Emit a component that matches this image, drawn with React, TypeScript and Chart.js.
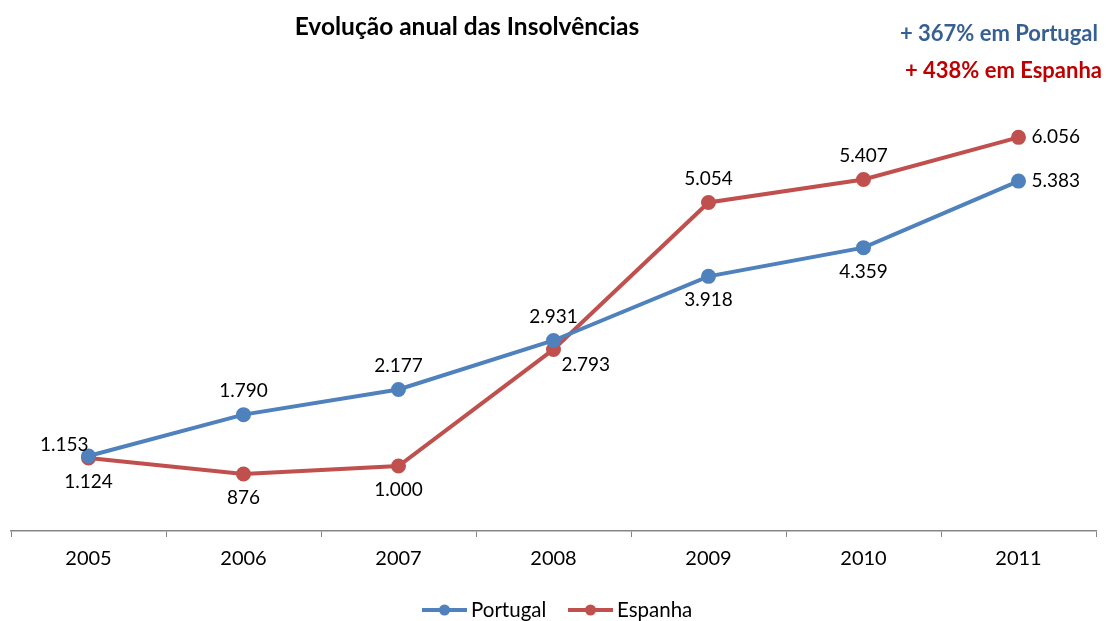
import React, { useEffect, useRef } from "react";
import { Chart, registerables } from "chart.js";

Chart.register(...registerables);

const years = ["2005", "2006", "2007", "2008", "2009", "2010", "2011"];
const portugal = [1153, 1790, 2177, 2931, 3918, 4359, 5383];
const espanha = [1124, 876, 1000, 2793, 5054, 5407, 6056];
const portugalLabelPlacement = ["aboveLeft", "above", "above", "above", "below", "below", "right"];
const espanhaLabelPlacement = ["below", "below", "below", "belowRight", "above", "above", "right"];
const titleText = "Evolução anual das Insolvências";
const noteLines = ["+ 367% em Portugal", "+ 438% em Espanha"];

const BLUE = "#4F81BD";
const RED = "#C0504D";
const FONT = "Lato, 'Open Sans', sans-serif";

const fmt = (v: number) => {
  const s = String(v);
  return s.length > 3 ? s.slice(0, s.length - 3) + "." + s.slice(s.length - 3) : s;
};

const labelPlugin = {
  id: "labelPlugin",
  afterDatasetsDraw(chart: any) {
    const ctx = chart.ctx;
    ctx.save();
    ctx.font = `19px ${FONT}`;
    ctx.fillStyle = "#000";
    ctx.textBaseline = "middle";
    const placements = [portugalLabelPlacement, espanhaLabelPlacement];
    chart.data.datasets.forEach((ds: any, di: number) => {
      const meta = chart.getDatasetMeta(di);
      meta.data.forEach((pt: any, i: number) => {
        const txt = fmt(ds.data[i]);
        const p = placements[di][i];
        let x = pt.x, y = pt.y;
        ctx.textAlign = "center";
        if (p === "above") { y -= 24; }
        else if (p === "below") { y += 24; }
        else if (p === "right") { ctx.textAlign = "left"; x += 13; }
        else if (p === "aboveLeft") { ctx.textAlign = "right"; y -= 11; }
        else if (p === "belowRight") { ctx.textAlign = "left"; x += 8; y += 15; }
        ctx.fillText(txt, x, y);
      });
    });
    ctx.restore();
  },
};

const decorPlugin = {
  id: "decorPlugin",
  afterDraw(chart: any) {
    const ctx = chart.ctx;
    ctx.save();
    ctx.textBaseline = "middle";
    ctx.font = `bold 24.5px ${FONT}`;
    ctx.fillStyle = "#000";
    ctx.textAlign = "center";
    ctx.fillText(titleText, 467, 27);
    ctx.font = `bold 22px ${FONT}`;
    ctx.textAlign = "right";
    ctx.fillStyle = "#376092";
    ctx.fillText(noteLines[0], 1098, 34);
    ctx.fillStyle = "#C00000";
    ctx.fillText(noteLines[1], 1102, 71);
    // legend
    const items = [
      { label: chart.data.datasets[0].label, color: BLUE, x: 422 },
      { label: chart.data.datasets[1].label, color: RED, x: 568 },
    ];
    const ly = 610;
    ctx.font = `20.5px ${FONT}`;
    ctx.textAlign = "left";
    items.forEach((it) => {
      ctx.strokeStyle = it.color;
      ctx.lineWidth = 4;
      ctx.beginPath();
      ctx.moveTo(it.x, ly);
      ctx.lineTo(it.x + 45, ly);
      ctx.stroke();
      ctx.fillStyle = it.color;
      ctx.beginPath();
      ctx.arc(it.x + 22.5, ly, 5.5, 0, Math.PI * 2);
      ctx.fill();
      ctx.fillStyle = "#000";
      ctx.fillText(it.label, it.x + 49, ly);
    });
    ctx.restore();
  },
};

export default function App() {
  const ref = useRef<HTMLCanvasElement | null>(null);
  useEffect(() => {
    if (!ref.current) return;
    const chart = new Chart(ref.current, {
      type: "line",
      data: {
        labels: years,
        datasets: [
          {
            label: "Portugal",
            data: portugal,
            borderColor: BLUE,
            backgroundColor: BLUE,
            borderWidth: 4,
            pointRadius: 5.5,
            pointHoverRadius: 5.5,
            tension: 0,
          },
          {
            label: "Espanha",
            data: espanha,
            borderColor: RED,
            backgroundColor: RED,
            borderWidth: 4,
            pointRadius: 5.5,
            pointHoverRadius: 5.5,
            tension: 0,
          },
        ],
      },
      options: {
        animation: false,
        responsive: false,
        maintainAspectRatio: false,
        events: [],
        layout: { padding: { top: 76, left: 11, right: 10, bottom: 40 } },
        plugins: { legend: { display: false }, title: { display: false }, tooltip: { enabled: false } },
        scales: {
          x: {
            offset: true,
            grid: { offset: true, drawOnChartArea: false, drawTicks: true, tickLength: 6, color: "#868686", lineWidth: 1 },
            border: { display: true, color: "#868686", width: 1.5 },
            ticks: { color: "#000", font: { family: FONT, size: 20 }, padding: 10, maxRotation: 0 },
          },
          y: { display: false, min: 0, max: 7000 },
        },
      },
      plugins: [labelPlugin, decorPlugin],
    });
    return () => chart.destroy();
  }, []);
  return (
    <div style={{ position: "absolute", left: 0, top: 0, width: 1106, height: 621, background: "#fff" }}>
      <canvas ref={ref} width={1106} height={621} style={{ width: 1106, height: 621 }} />
    </div>
  );
}
